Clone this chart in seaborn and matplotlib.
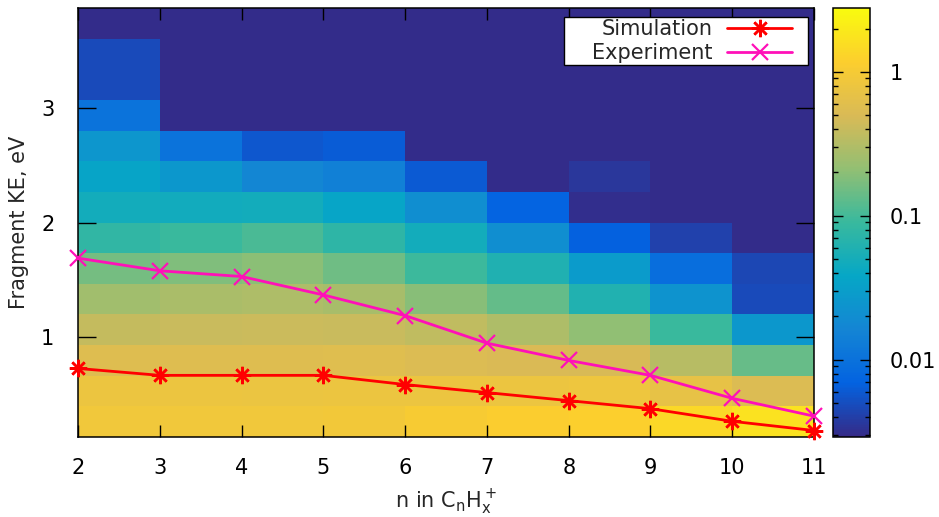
import numpy as np
import matplotlib
matplotlib.use("Agg")
import matplotlib.pyplot as plt
import seaborn as sns
from matplotlib.colors import LinearSegmentedColormap, LogNorm
from matplotlib.path import Path
from matplotlib.ticker import LogLocator, NullFormatter

# --- fragment KE distributions of C_nH_x+ (map) + mean KE (lines) ---

n_values = [2, 3, 4, 5, 6, 7, 8, 9, 10, 11]
ke_bin_width = 4 / 15          # eV, bins centred on k * width
n_ke_bins = 14

# normalised yield per KE bin, lowest bin first, one list per n
yield_n2 = [0.90, 0.79, 0.57, 0.39, 0.25, 0.16, 0.079, 0.048, 0.036, 0.025, 0.0104, 0.0047, 0.0047, 0.003]
yield_n3 = [0.90, 0.80, 0.56, 0.41, 0.28, 0.18, 0.090, 0.047, 0.026, 0.0104, 0.003, 0.003, 0.003, 0.003]
yield_n4 = [0.90, 0.78, 0.56, 0.42, 0.30, 0.20, 0.107, 0.048, 0.017, 0.0057, 0.003, 0.003, 0.003, 0.003]
yield_n5 = [0.92, 0.80, 0.58, 0.41, 0.27, 0.15, 0.075, 0.037, 0.0143, 0.0063, 0.003, 0.003, 0.003, 0.003]
yield_n6 = [1.05, 0.79, 0.53, 0.37, 0.195, 0.093, 0.048, 0.020, 0.006, 0.003, 0.003, 0.003, 0.003, 0.003]
yield_n7 = [1.13, 0.80, 0.50, 0.30, 0.135, 0.060, 0.020, 0.0072, 0.003, 0.003, 0.003, 0.003, 0.003, 0.003]
yield_n8 = [1.20, 0.83, 0.49, 0.21, 0.061, 0.028, 0.0068, 0.0031, 0.0035, 0.003, 0.003, 0.003, 0.003, 0.003]
yield_n9 = [1.40, 0.70, 0.33, 0.090, 0.023, 0.009, 0.0042, 0.003, 0.003, 0.003, 0.003, 0.003, 0.003, 0.003]
yield_n10 = [1.70, 0.53, 0.14, 0.026, 0.0047, 0.0045, 0.003, 0.003, 0.003, 0.003, 0.003, 0.003, 0.003, 0.003]

# mean fragment KE, eV
sim_ke = [0.73, 0.67, 0.67, 0.67, 0.59, 0.52, 0.45, 0.38, 0.27, 0.19]
exp_ke = [1.69, 1.58, 1.53, 1.37, 1.19, 0.95, 0.80, 0.67, 0.47, 0.315]
series_labels = ["Simulation", "Experiment"]

y_ticks = [1, 2, 3]
cbar_ticks = [0.01, 0.1, 1]
cbar_labels = ["0.01", "0.1", "1"]

# gnuplot "parula" palette
parula = LinearSegmentedColormap.from_list("parula", [
    "#352a87", "#0363e1", "#1485d4", "#06a7c6", "#38b99e",
    "#92bf73", "#d9ba56", "#fcce2e", "#f9fb0e"])

sns.set_theme(style="ticks", rc={
    "axes.axisbelow": False,
    "axes.linewidth": 1.1,
    "axes.edgecolor": "black",
    "xtick.color": "black",
    "ytick.color": "black",
    "font.size": 15,
    "axes.labelsize": 15,
    "xtick.labelsize": 15,
    "ytick.labelsize": 15,
    "legend.fontsize": 15,
})
plt.rcParams["font.family"] = ["DejaVu Sans"]

fig = plt.figure(figsize=(9.39, 5.17), dpi=100)
ax = fig.add_axes([0.0831, 0.1547, 0.7838, 0.8298])
cax = fig.add_axes([0.8871, 0.1547, 0.0394, 0.8298])

grid = np.column_stack([yield_n2, yield_n3, yield_n4, yield_n5, yield_n6,
                        yield_n7, yield_n8, yield_n9, yield_n10])
x_edges = np.arange(n_values[0], n_values[-1] + 1)
y_edges = (np.arange(n_ke_bins + 1) + 0.5) * ke_bin_width

mesh = ax.pcolormesh(x_edges, y_edges, grid, cmap=parula,
                     norm=LogNorm(vmin=0.0029, vmax=2.78), shading="flat")

sns.lineplot(x=n_values, y=sim_ke, ax=ax, color="red", marker=(8, 2, 0),
             markersize=12.5, markeredgewidth=1.8, markeredgecolor="red",
             linewidth=2, legend=False, clip_on=False, zorder=3)
sns.lineplot(x=n_values, y=exp_ke, ax=ax, color="#ff10b8", marker="x",
             markersize=12, markeredgewidth=1.6, markeredgecolor="#ff10b8",
             linewidth=2, legend=False, clip_on=False, zorder=3)

ax.set_xlim(n_values[0], n_values[-1])
ax.set_ylim(y_edges[0], y_edges[-1])
ax.set_xticks(n_values)
ax.set_yticks(y_ticks)
ax.tick_params(axis="x", direction="in", length=8.4, width=1,
               top=True, bottom=True, pad=15)
ax.tick_params(axis="y", direction="in", length=13, width=1,
               left=True, right=True, pad=17)
ax.set_xlabel(r"$\mathregular{n\ in\ C_nH_x^+}$")
ax.set_ylabel("Fragment KE, eV")
ax.xaxis.set_label_coords(0.5, -0.118)
ax.yaxis.set_label_coords(-0.066, 0.5)


# gnuplot-like key box: wider padding left of the text than right of the sample
def key_box(x0, y0, width, height, mutation_size):
    left, right = 1.25 * mutation_size, 0.67 * mutation_size
    return Path([(x0 - left, y0), (x0 + width + right, y0),
                 (x0 + width + right, y0 + height), (x0 - left, y0 + height),
                 (x0 - left, y0)], closed=True)


leg = ax.legend(handles=ax.lines[:2], labels=series_labels,
                loc="upper right", bbox_to_anchor=(0.973, 0.979),
                borderaxespad=0, markerfirst=False, numpoints=1,
                fancybox=False, framealpha=1, edgecolor="black",
                handlelength=3.1, handletextpad=0.72,
                borderpad=0.1, labelspacing=0.18)
leg.get_frame().set_linewidth(1.0)
leg.get_frame().set_boxstyle(key_box)
leg.set_zorder(5)

cbar = fig.colorbar(mesh, cax=cax)
cbar.outline.set_linewidth(1.1)
cbar.outline.set_edgecolor("black")
cbar.set_ticks(cbar_ticks, labels=cbar_labels)
cax.yaxis.set_minor_locator(LogLocator(base=10, subs=np.arange(2, 10)))
cax.yaxis.set_minor_formatter(NullFormatter())
cax.tick_params(which="major", direction="in", length=7.5, width=1,
                left=True, right=True, pad=14)
cax.tick_params(which="minor", direction="in", length=3.8, width=1,
                left=True, right=True)

fig.savefig("out.png", dpi=100)
